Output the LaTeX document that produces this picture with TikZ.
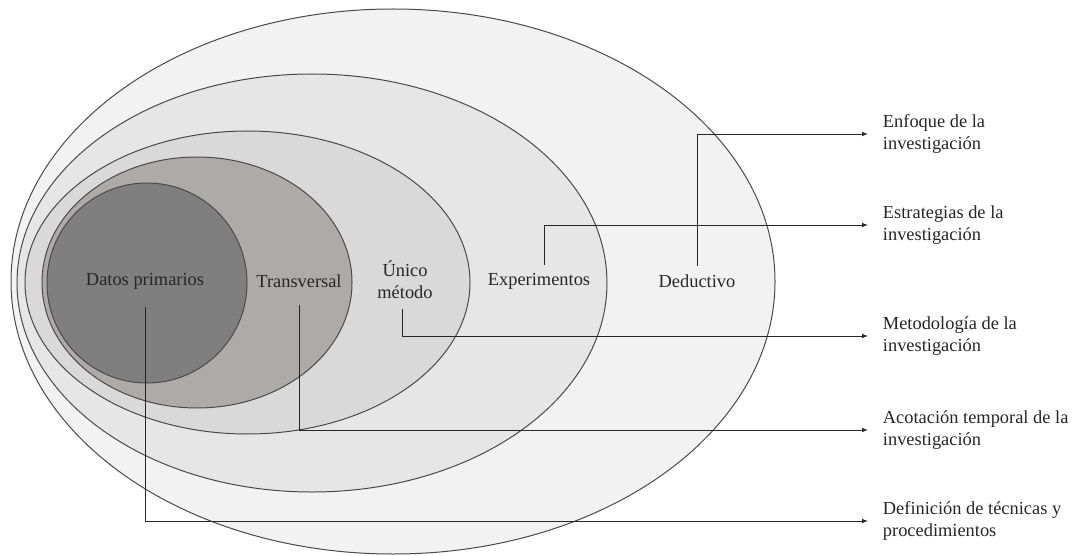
\documentclass[tikz,border=0pt]{standalone}
\usepackage{fontspec}
\setmainfont{Liberation Serif}
\usetikzlibrary{arrows.meta}
\definecolor{ringOne}{HTML}{F2F2F2}
\definecolor{ringTwo}{HTML}{E7E6E6}
\definecolor{ringThree}{HTML}{D9D9D9}
\definecolor{ringFour}{HTML}{AEAAAA}
\definecolor{ringFive}{HTML}{7F7F7F}
\definecolor{ringLine}{HTML}{4A4A4A}
\definecolor{textGray}{HTML}{262626}

\begin{document}
\begin{tikzpicture}[x=0.75pt, y=-0.75pt,
    ring/.style={draw=ringLine, line width=0.75pt},
    lbl/.style={font=\fontsize{13.8}{16.5}\selectfont, text=textGray, inner sep=1pt, align=center},
    side/.style={lbl, anchor=west, align=left, inner xsep=11pt},
    link/.style={draw=textGray, line width=0.7pt, -{Latex[length=4.5pt, width=3.5pt]}}]
  \useasboundingbox (0,0) rectangle (1077,556);

  % nested rings
  \fill[ringOne, ring] (393,281.5) ellipse [x radius=382, y radius=272.5];
  \fill[ringTwo, ring] (312,283) ellipse [x radius=295, y radius=209];
  \fill[ringThree, ring] (247.5,282.5) ellipse [x radius=222.5, y radius=151.5];
  \fill[ringFour, ring] (197,282.5) ellipse [x radius=155, y radius=125.5];
  \fill[ringFive, ring] (147,283) ellipse [x radius=100, y radius=100];

  % labels inside the rings
  \node[lbl] (datos) at (145,281) {Datos primarios};
  \node[lbl] (transv) at (299,281) {Transversal};
  \node[lbl] (unico) at (405,280) {Único\\método};
  \node[lbl] (exper) at (539,281) {Experimentos};
  \node[lbl] (deduc) at (697,281) {Deductivo};

  % labels on the right
  \node[side] (enfoque) at (868,134) {Enfoque de la\\investigación};
  \node[side] (estrat) at (868,225) {Estrategias de la\\investigación};
  \node[side] (metodo) at (868,336) {Metodología de la\\investigación};
  \node[side] (acota) at (868,430) {Acotación temporal de la\\investigación};
  \node[side] (defin) at (868,521) {Definición de técnicas y\\procedimientos};

  % connectors
  \draw[link, shorten <=5pt] (deduc.north) |- (enfoque.west);
  \draw[link, shorten <=5pt] ([xshift=4pt]exper.north) |- (estrat.west);
  \draw[link, shorten <=6pt] ([xshift=-2pt]unico.south) |- (metodo.west);
  \draw[link, shorten <=12pt] (transv.south) |- (acota.west);
  \draw[link, shorten <=12pt] (datos.south) |- (defin.west);
\end{tikzpicture}
\end{document}
